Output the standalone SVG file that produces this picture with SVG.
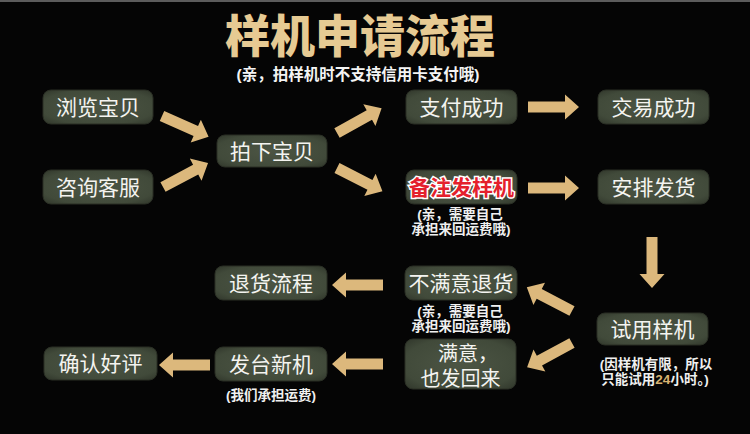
<svg xmlns="http://www.w3.org/2000/svg" width="750" height="434" viewBox="0 0 750 434">
<style>
.bg{fill:#050505}
.box{fill:url(#g);stroke:#2a2f25;stroke-width:1}
.t{font-family:"Liberation Sans","Noto Sans CJK SC",sans-serif;font-size:21px;fill:#f4f4f0;text-anchor:middle}
.s{font-family:"Liberation Sans","Noto Sans CJK SC",sans-serif;font-size:13.5px;font-weight:bold;fill:#f0f0f0;text-anchor:middle}
.arr{fill:#dcb87c}
</style>
<defs>
<radialGradient id="g" cx="50%" cy="50%" r="65%">
<stop offset="0" stop-color="#4c5544"/>
<stop offset="0.8" stop-color="#414a3a"/>
<stop offset="1" stop-color="#353c2f"/>
</radialGradient>
<path id="ar" d="M0,-5.5 H37 V-12.5 L51,0 L37,12.5 V5.5 H0 Z"/>
</defs>
<rect class="bg" x="0" y="0" width="750" height="434"/>
<rect x="0" y="0" width="750" height="2" fill="#5c5c5c"/>
<g id="title">
<text x="360" y="53" font-family="'Liberation Sans','Noto Sans CJK SC',sans-serif" font-size="45" font-weight="900" fill="#e6ca93" text-anchor="middle">样机申请流程</text>
<text x="358" y="80" font-family="'Liberation Sans','Noto Sans CJK SC',sans-serif" font-size="15.5" font-weight="bold" fill="#f4f4f4" text-anchor="middle">(亲，拍样机时不支持信用卡支付哦)</text>
</g>
<g id="connectors" class="arr">
<use href="#ar" transform="translate(162,116) rotate(24)"/>
<use href="#ar" transform="translate(163,187) rotate(-28)"/>
<use href="#ar" transform="translate(337,133) rotate(-29)"/>
<use href="#ar" transform="translate(337,168) rotate(27)"/>
<use href="#ar" transform="translate(528,107)"/>
<use href="#ar" transform="translate(528,188)"/>
<use href="#ar" transform="translate(652,237) rotate(90)"/>
<use href="#ar" transform="translate(572,311) rotate(207.6)"/>
<use href="#ar" transform="translate(572,343) rotate(151.7)"/>
<use href="#ar" transform="translate(383,285) rotate(180)"/>
<use href="#ar" transform="translate(383,364) rotate(180)"/>
<use href="#ar" transform="translate(210,365) rotate(180)"/>
</g>
<g id="n1"><rect class="box" x="43" y="90" width="110" height="34" rx="8"/><text class="t" x="98" y="114.5">浏览宝贝</text></g>
<g id="n2"><rect class="box" x="43" y="170" width="110" height="34" rx="8"/><text class="t" x="98" y="194.5">咨询客服</text></g>
<g id="n3"><rect class="box" x="217" y="135" width="110" height="32" rx="8"/><text class="t" x="272" y="158.5">拍下宝贝</text></g>
<g id="n4"><rect class="box" x="406" y="90" width="111" height="34" rx="8"/><text class="t" x="461.5" y="114.5">支付成功</text></g>
<g id="n5"><rect class="box" x="598" y="90" width="111" height="34" rx="8"/><text class="t" x="653.5" y="114.5">交易成功</text></g>
<g id="n6"><rect class="box" x="406" y="170" width="111" height="34" rx="8"/><text class="t" x="461.5" y="194.5" stroke="#ffffff" stroke-width="3" paint-order="stroke" font-weight="bold" style="fill:#e4202c">备注发样机</text>
<text class="s" x="460" y="219">(亲，需要自己</text><text class="s" x="461" y="234">承担来回运费哦)</text></g>
<g id="n7"><rect class="box" x="598" y="170" width="111" height="34" rx="8"/><text class="t" x="653.5" y="194.5">安排发货</text></g>
<g id="n8"><rect class="box" x="597" y="313" width="111" height="32" rx="8"/><text class="t" x="652.5" y="336.5">试用样机</text>
<text class="s" x="656" y="369">(因样机有限，所以</text><text class="s" x="655" y="384">只能试用<tspan style="fill:#d8b270">24</tspan>小时。)</text></g>
<g id="n9"><rect class="box" x="405" y="266" width="112" height="34" rx="8"/><text class="t" x="461" y="290.5">不满意退货</text>
<text class="s" x="460" y="316">(亲，需要自己</text><text class="s" x="461" y="331">承担来回运费哦)</text></g>
<g id="n10"><rect class="box" x="405" y="339" width="111" height="50" rx="8"/><text class="t" x="468" y="361" style="font-size:20px">满意，</text><text class="t" x="460.5" y="386" style="font-size:20px">也发回来</text></g>
<g id="n11"><rect class="box" x="215" y="266" width="112" height="34" rx="8"/><text class="t" x="271" y="290.5">退货流程</text></g>
<g id="n12"><rect class="box" x="215" y="347" width="112" height="34" rx="8"/><text class="t" x="271" y="371.5">发台新机</text>
<text class="s" x="271" y="400">(我们承担运费)</text></g>
<g id="n13"><rect class="box" x="44" y="347" width="113" height="33" rx="8"/><text class="t" x="100.5" y="371">确认好评</text></g>
</svg>
